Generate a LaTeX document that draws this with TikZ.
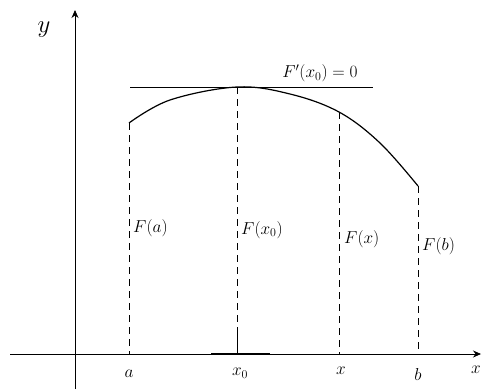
\documentclass[tikz,border=0pt]{standalone}
\usetikzlibrary{arrows.meta}
\begin{document}
\begin{tikzpicture}[x=1pt,y=-1pt,
  axis/.style={line width=0.8pt,-{Stealth[length=8pt,width=7pt]}},
  guide/.style={line width=0.7pt,dash pattern=on 7pt off 5pt},
  lbl/.style={font=\fontsize{17}{20}\selectfont,inner sep=1pt}]
\useasboundingbox (0,0) rectangle (482,389);
% axes
\coordinate (yb) at (75,389);
\coordinate (yt) at (75,10);
\coordinate (xl) at (10,354);
\coordinate (xr) at (481,354);
\draw[axis] (yb) -- (yt);
\draw[axis] (xl) -- (xr);
\node[lbl,font=\fontsize{24}{28}\selectfont] (ylab) at (44,30) {$y$};
\node[lbl,anchor=east] (xlab) at (482,370) {$x$};
% curve points
\coordinate (pa) at (129,123);
\coordinate (p0) at (237,87);
\coordinate (px) at (339,112);
\coordinate (pb) at (418,186);
\draw[line width=1.2pt] plot[smooth,tension=0.6] coordinates {(129,123) (170,100) (237,87) (290,94) (339,112) (380,143) (418,186)};
% tangent
\coordinate (tl) at (130,87);
\coordinate (tr) at (373,87);
\draw[line width=0.9pt] (tl) -- (tr);
\node[lbl,anchor=south] (tang) at (320,83) {$F'(x_0)=0$};
% base points
\coordinate (ba) at (129,354);
\coordinate (b0) at (237,354);
\coordinate (bx) at (339,354);
\coordinate (bb) at (418,354);
\draw[guide] (pa) -- (ba);
\draw[guide] (p0) -- (b0);
\draw[guide] (px) -- (bx);
\draw[guide] (pb) -- (bb);
\draw[line width=1pt] (237,333) -- (b0);
\draw[line width=0.9pt] (211,353.3) -- (270,353.3);
% value labels
\node[lbl,anchor=west] (fa) at (132,228) {$F(a)$};
\node[lbl,anchor=west] (f0) at (240,230) {$F(x_0)$};
\node[lbl,anchor=west] (fx) at (343,239) {$F(x)$};
\node[lbl,anchor=west] (fb) at (421,246) {$F(b)$};
% axis labels
\node[lbl] (la) at (129,374) {$a$};
\node[lbl] (l0) at (240,373) {$x_0$};
\node[lbl] (lx) at (341,371) {$x$};
\node[lbl] (lb) at (418,374) {$b$};
\end{tikzpicture}
\end{document}
